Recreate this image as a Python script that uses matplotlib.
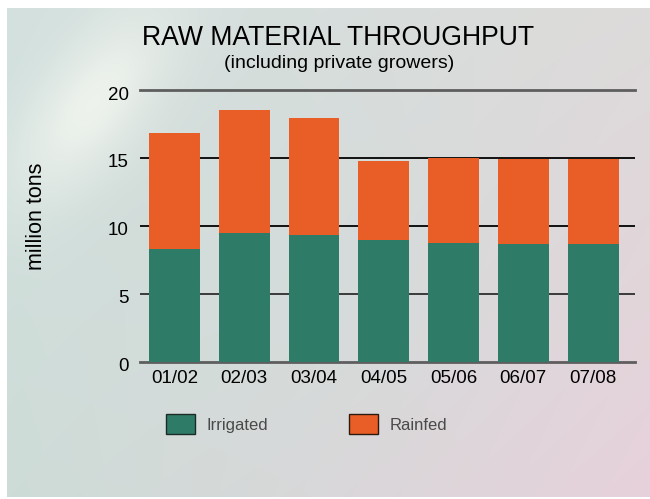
import numpy as np
import matplotlib
matplotlib.use("Agg")
import matplotlib.pyplot as plt
import matplotlib.transforms as mtransforms
from matplotlib.patches import Patch

# Data (million tons)
seasons = ["01/02", "02/03", "03/04", "04/05", "05/06", "06/07", "07/08"]
irrigated = [8.3, 9.45, 9.3, 8.95, 8.75, 8.7, 8.7]
rainfed = [8.55, 9.1, 8.65, 5.85, 6.25, 6.2, 6.25]
y_ticks = [0, 5, 10, 15, 20]

GREEN = "#2e7b67"
ORANGE = "#e95e26"

plt.rcParams["font.family"] = ["Liberation Sans", "DejaVu Sans"]

W, H = 650, 499
fig = plt.figure(figsize=(W / 100, H / 100), dpi=100, facecolor="white")

# Soft gradient panel behind the chart
bg = fig.add_axes([7 / W, 2 / H, 643 / W, 489 / H])
bg.set_axis_off()
ny, nx = 245, 322
yy, xx = np.mgrid[0:1:ny * 1j, 0:1:nx * 1j]
tl = np.array([0xd3, 0xe1, 0xdf]) / 255
tr = np.array([0xdd, 0xdb, 0xda]) / 255
bl = np.array([0xcd, 0xdc, 0xd7]) / 255
br = np.array([0xe7, 0xd1, 0xdb]) / 255
mid = np.array([0xd0, 0xde, 0xda]) / 255
img = ((1 - xx)[..., None] * (1 - yy)[..., None] * tl
       + xx[..., None] * (1 - yy)[..., None] * tr
       + (1 - xx)[..., None] * yy[..., None] * bl
       + xx[..., None] * yy[..., None] * br)
# pull the centre toward the grey-green tone
wmid = np.exp(-(((xx - 0.4) / 0.35) ** 2 + ((yy - 0.5) / 0.4) ** 2))
img = img * (1 - 0.5 * wmid[..., None]) + mid * 0.5 * wmid[..., None]
# bright glow in the upper left
px, py = xx * 643, yy * 489
u = (px - 85) * 0.8 + (py - 95) * 0.6
v = -(px - 85) * 0.6 + (py - 95) * 0.8
glow = np.exp(-((u / 50) ** 2 + (v / 110) ** 2))
light = np.array([0xf4, 0xf7, 0xf0]) / 255
img = img * (1 - 0.8 * glow[..., None]) + light * 0.8 * glow[..., None]
bg.imshow(np.clip(img, 0, 1), aspect="auto", extent=(0, 1, 0, 1), interpolation="bilinear")

# Main chart
ax = fig.add_axes([140 / W, 1 - 361.7 / H, (635 - 140) / W, (361.7 - 90) / H])
ax.patch.set_alpha(0)
x = np.arange(len(seasons))
ax.set_xlim(-0.494, 6.6)
ax.set_ylim(0, 20)

for t in y_ticks:
    if t in (0, 20):
        ax.axhline(t, color="#5e5e5e", lw=2.0, zorder=1, clip_on=False)
    elif t == 5:
        ax.axhline(t, color="#3a3a3a", lw=1.4, zorder=1)
    else:
        ax.axhline(t, color="#111111", lw=1.4, zorder=1)

ax.bar(x, irrigated, width=0.73, color=GREEN, zorder=2)
ax.bar(x, rainfed, width=0.73, bottom=irrigated, color=ORANGE, zorder=2)

for s in ax.spines.values():
    s.set_visible(False)
ax.set_xticks(x)
ax.set_xticklabels(seasons, fontsize=13.5, color="#000000")
ax.set_yticks(y_ticks)
ax.set_yticklabels([str(t) for t in y_ticks], fontsize=13.5, color="#000000")
ax.tick_params(length=0)
ax.tick_params(axis="y", pad=8)
ax.tick_params(axis="x", pad=6)
shift_down = mtransforms.ScaledTranslation(0, -3 / 100, fig.dpi_scale_trans)
for lbl in ax.get_yticklabels():
    lbl.set_va("center_baseline")
    lbl.set_transform(lbl.get_transform() + shift_down)

fig.text(37 / W, 1 - 216 / H, "million tons", rotation=90, fontsize=15.5,
         ha="center", va="center", color="#000000")

fig.text(338 / W, 1 - 38 / H, "RAW MATERIAL THROUGHPUT", fontsize=19.2,
         family=["Liberation Sans Narrow", "Liberation Sans", "DejaVu Sans"],
         ha="center", va="center", color="#000000")
fig.text(339 / W, 1 - 64 / H, "(including private growers)", fontsize=14,
         family=["Liberation Sans Narrow", "Liberation Sans", "DejaVu Sans"],
         ha="center", va="center", color="#000000")

handles = [Patch(facecolor=GREEN, edgecolor="#1c2b26", lw=1.0, label="Irrigated"),
           Patch(facecolor=ORANGE, edgecolor="#2a1a10", lw=1.0, label="Rainfed")]
fig.legend(handles=handles, loc="upper left", bbox_to_anchor=(166 / W, 1 - 414 / H),
           ncol=2, frameon=False, fontsize=12, handlelength=1.75, handleheight=1.5,
           handletextpad=0.65, columnspacing=4.9, borderpad=0, borderaxespad=0,
           labelcolor="#4a4a4a")

fig.savefig("out.png", dpi=100, facecolor="white")
